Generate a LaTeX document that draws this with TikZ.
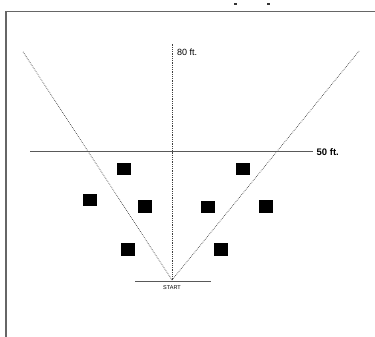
\documentclass[tikz,border=0pt]{standalone}
\usepackage{fontspec}
\setmainfont{Liberation Sans}
\begin{document}
\begin{tikzpicture}[x=1pt,y=-1pt,
  dotline/.style={draw=black!75,line width=0.7pt,dash pattern=on 0.7pt off 1.1pt},
  solidline/.style={draw=black!65,line width=0.7pt},
  frameline/.style={draw=black!60,line width=1.5pt},
  block/.style={fill=black,draw=none,minimum width=14pt,minimum height=12.5pt,inner sep=0pt},
  lbl/.style={font=\fontsize{9}{10}\selectfont,inner sep=0pt,anchor=west},
  blbl/.style={font=\fontsize{9.5}{10}\selectfont\bfseries,inner sep=0pt,anchor=west},
  slbl/.style={font=\fontsize{5.5}{6}\selectfont,inner sep=0pt}]
\useasboundingbox (0,0) rectangle (375,337);
% frame
\draw[frameline] (6,337) -- (6,11.5) -- (375,11.5);
% top marks
\fill[black!80] (234,3.5) rectangle (236.5,5);
\fill[black!80] (267,3.5) rectangle (269.5,5);
% coordinates
\coordinate (apex) at (172,280);
\coordinate (vtop) at (172,44);
\coordinate (ltop) at (22.5,51);
\coordinate (rtop) at (359,51);
\coordinate (hl) at (30,151);
\coordinate (hr) at (313,151);
\coordinate (sl) at (135,281.5);
\coordinate (sr) at (211,281.5);
% lines
\draw[dotline] (apex) -- (vtop);
\draw[dotline] (apex) -- (ltop);
\draw[dotline] (apex) -- (rtop);
\draw[solidline] (hl) -- (hr);
\draw[solidline] (sl) -- (sr);
% labels
\node[lbl] (l80) at (177,52.5) {80 ft.};
\node[blbl] (l50) at (316.5,152.5) {50 ft.};
\node[slbl] (start) at (172,288) {START};
% blocks
\node[block] (b1) at (124,169) {};
\node[block] (b2) at (242.5,169) {};
\node[block] (b3) at (90,200) {};
\node[block] (b4) at (145.3,206.7) {};
\node[block] (b5) at (208.2,207) {};
\node[block] (b6) at (266.3,206.4) {};
\node[block] (b7) at (127.8,249.7) {};
\node[block] (b8) at (220.5,249.7) {};
\end{tikzpicture}
\end{document}
